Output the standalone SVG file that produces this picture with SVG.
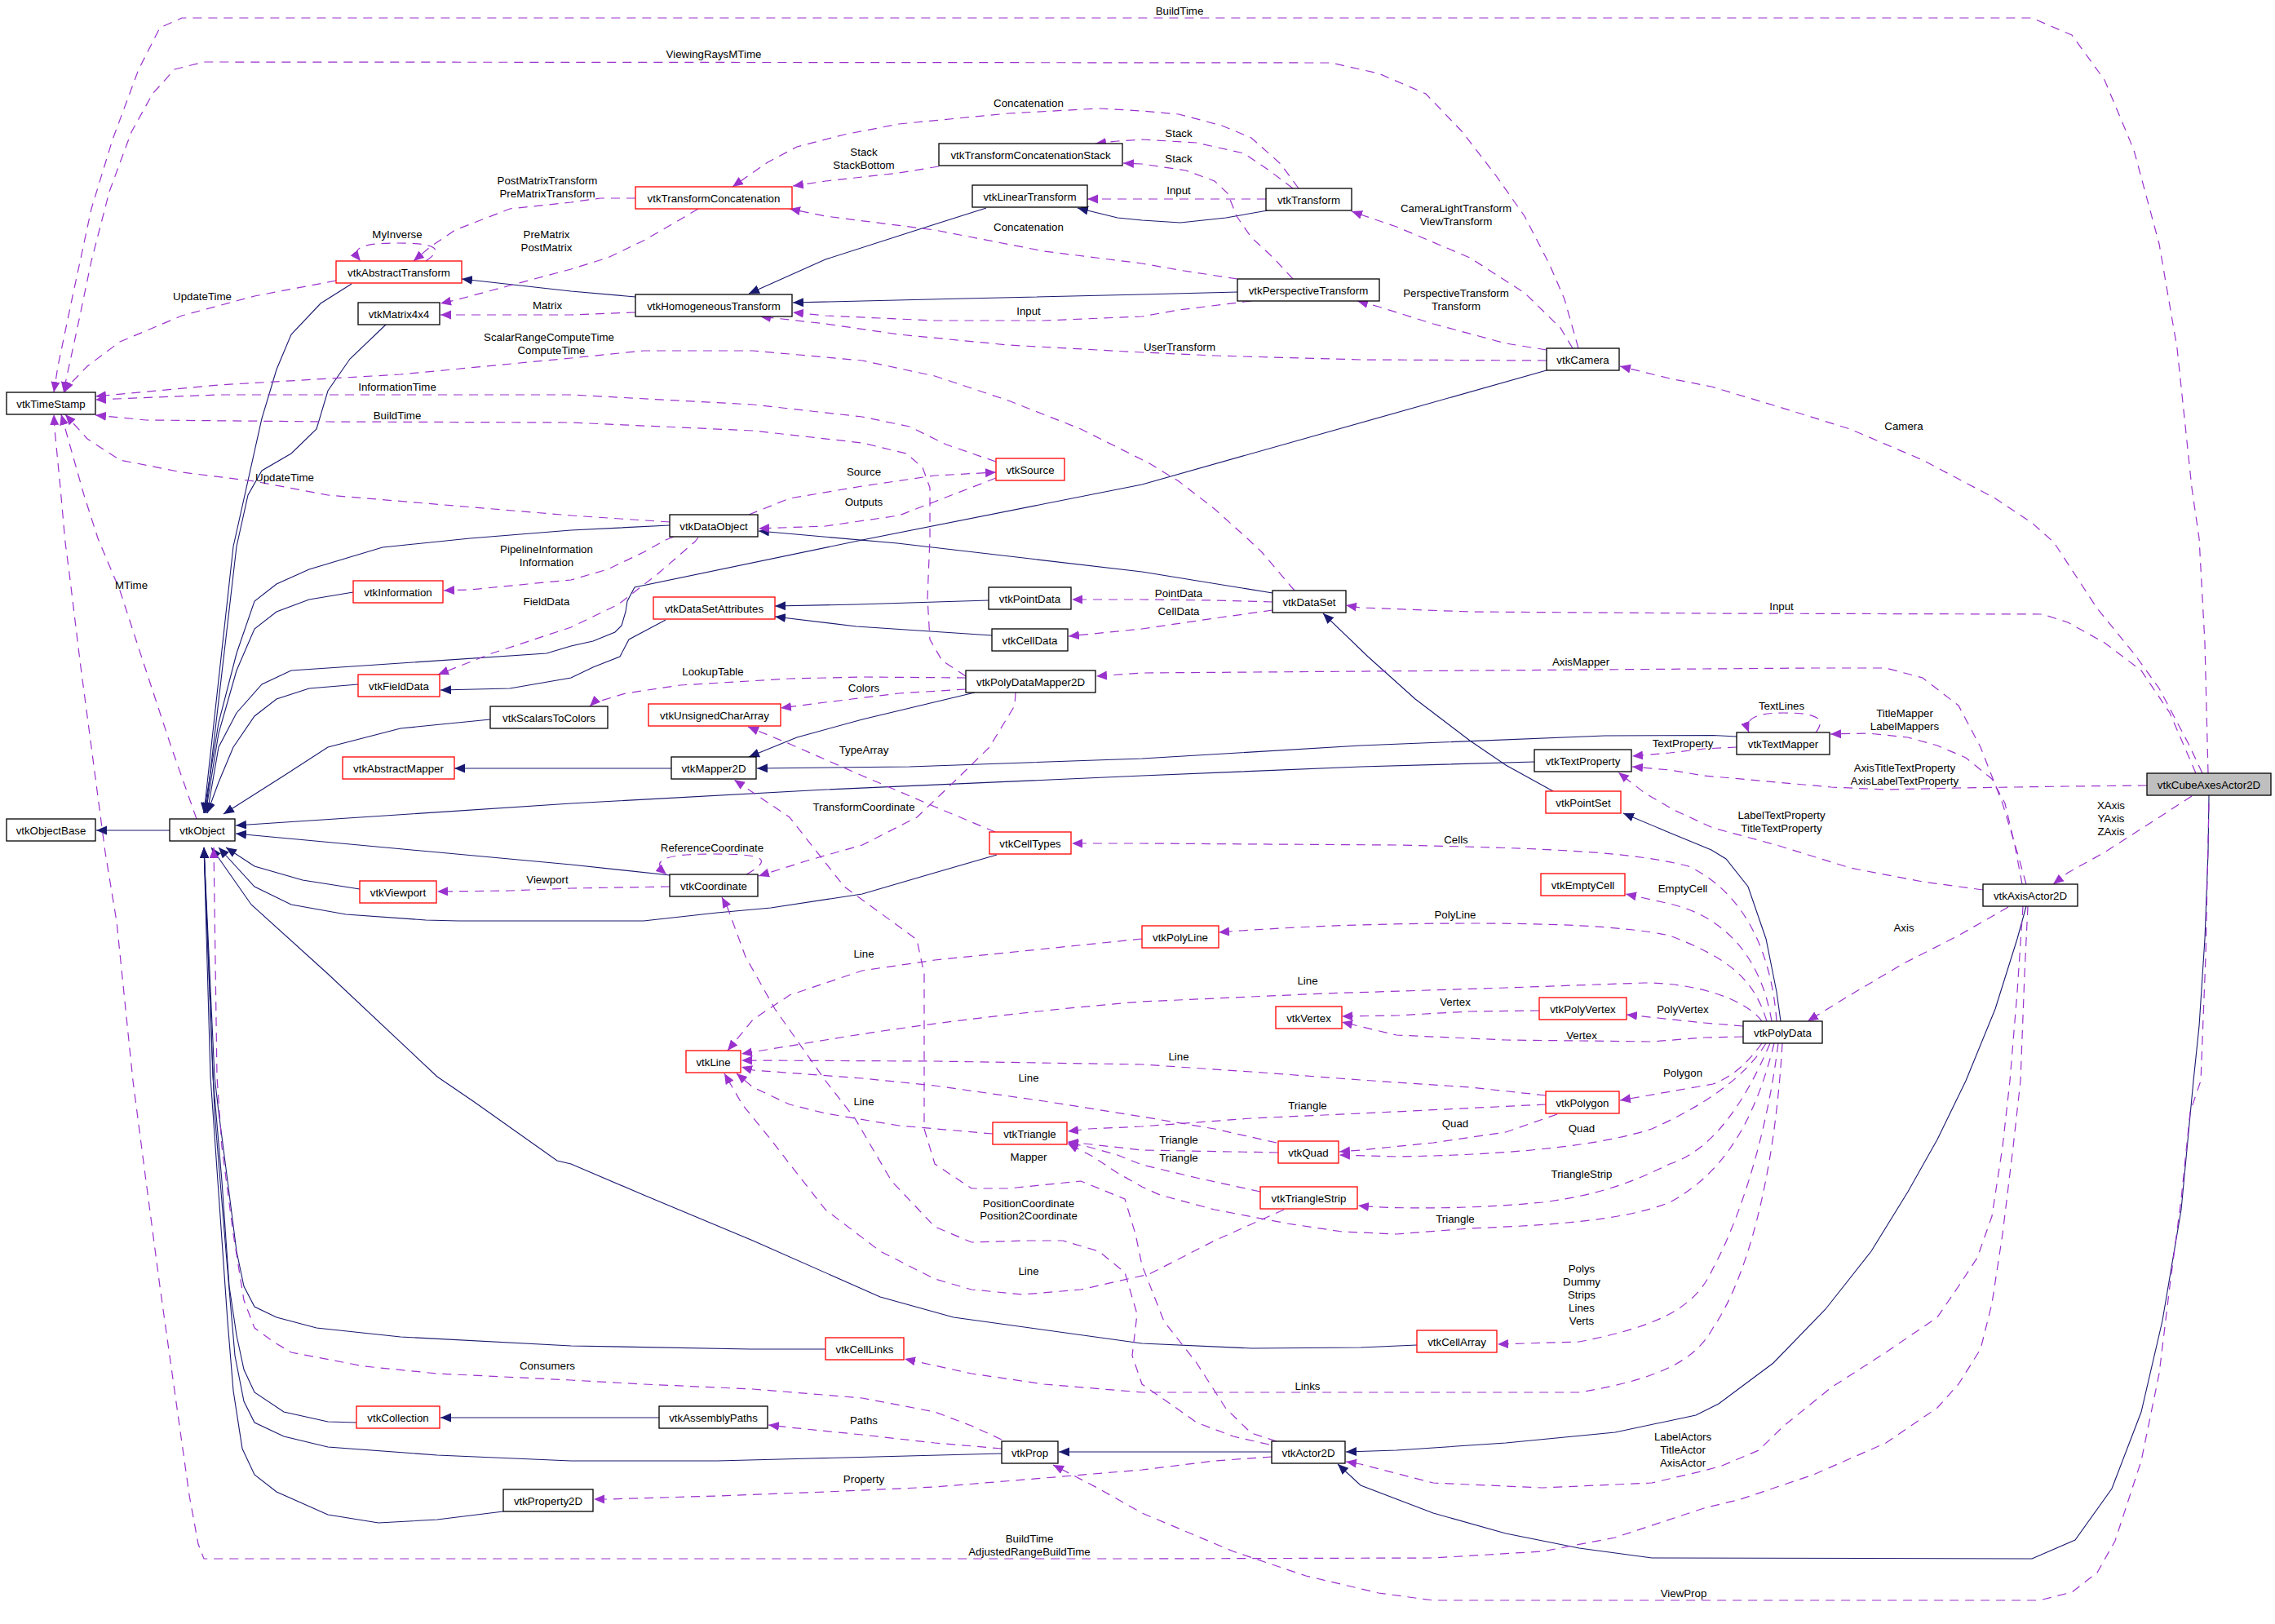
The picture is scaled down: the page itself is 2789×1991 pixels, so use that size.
<svg xmlns="http://www.w3.org/2000/svg" width="2789" height="1991" viewBox="0 0 2789 1991">
<defs>
<style>
text{font-family:"Liberation Sans",Arial,sans-serif;font-size:13.3px;fill:#000;text-anchor:middle}
.n rect{fill:#fff;stroke:#000;stroke-width:1.3}
.r rect{fill:#fff;stroke:#f00;stroke-width:1.3}
.g rect{fill:#bfbfbf;stroke:#000;stroke-width:1.3}
.i{fill:none;stroke:#191970;stroke-width:1.1;marker-end:url(#ai)}
.u{fill:none;stroke:#9a32cd;stroke-width:1.2;stroke-dasharray:11,8;marker-end:url(#au)}
</style>
<marker id="ai" markerUnits="userSpaceOnUse" viewBox="0 0 14 12" markerWidth="14" markerHeight="12" refX="13" refY="6" orient="auto"><path d="M0,0.5 L13,6 L0,11.5 z" fill="#191970"/></marker>
<marker id="au" markerUnits="userSpaceOnUse" viewBox="0 0 14 12" markerWidth="14" markerHeight="12" refX="13" refY="6" orient="auto"><path d="M0,0.5 L13,6 L0,11.5 z" fill="#9a32cd"/></marker>
</defs>
<rect width="2789" height="1991" fill="#fff"/>
<g id="connectors">
<path class="i" d="M208,1018 L118,1018"/>
<path class="i" d="M431,348 L393,372 L357,410 L339,453 L321,513 L286,670 L250,997"/>
<path class="i" d="M473,398 L429,440 L402,479 L388,526 L357,556 L321,577 L304,607 L290,670 L252,997"/>
<path class="i" d="M779,364 L700,357 L566,342"/>
<path class="i" d="M1209,255 L1124,282 L1012,318 L918,360"/>
<path class="i" d="M1554,258 L1503,267 L1447,273 L1400,270 L1370,267 L1321,255"/>
<path class="i" d="M1517,358 L1400,361 L1182,366 L972,371"/>
<path class="i" d="M821,644 L700,650 L576,660 L469,671 L379,698 L339,716 L312,737 L290,801 L268,886 L250,997"/>
<path class="i" d="M433,726 L379,735 L339,750 L312,771 L290,822 L268,899 L252,997"/>
<path class="i" d="M439,839 L379,844 L339,857 L312,878 L286,916 L268,959 L254,997"/>
<path class="i" d="M816,760 L771,784 L760,805 L727,818 L700,831 L625,844 L540,846"/>
<path class="i" d="M1212,736 L1050,741 L950,743"/>
<path class="i" d="M1216,779 L1050,768 L950,756"/>
<path class="i" d="M601,882 L491,893 L402,916 L348,951 L274,998"/>
<path class="i" d="M823,942 L557,942"/>
<path class="i" d="M1195,849 L1057,882 L977,904 L918,928"/>
<path class="i" d="M2129,903 L2100,901.5 L1967,902 L1668,914 L1400,930 L1115,940 L928,942"/>
<path class="i" d="M1881,934 L1668,940 L1400,951 L1012,968 L700,985 L289,1012"/>
<path class="i" d="M1560,727 L1400,701 L1100,666 L930,651"/>
<path class="i" d="M1904,970 L1846,938 L1802,908 L1735,857 L1677,805 L1622,752"/>
<path class="i" d="M2183,1252 L2178,1216 L2165,1151 L2143,1087 L2116,1053 L2098,1042 L2047,1021 L1990,997"/>
<path class="i" d="M1896,454 L1400,594 L1057,662 L778,720 L769,737 L767,750 L762,767 L754,775 L727,786 L700,792 L670,801 L357,822 L321,839 L290,874 L268,916 L254,997"/>
<path class="i" d="M441,1090 L371,1079 L312,1062 L277,1039"/>
<path class="i" d="M821,1073 L700,1060 L289,1022"/>
<path class="i" d="M1222,1048 L1146,1070 L1057,1096 L945,1113 L879,1119 L789,1129 L562,1129 L522,1128 L424,1121 L357,1109 L312,1087 L268,1039"/>
<path class="i" d="M1012,1654 L919,1654 L700,1650 L491,1639 L388,1628 L339,1615 L312,1602 L299,1577 L290,1534 L279,1448 L268,1363 L263,1320 L250,1039"/>
<path class="i" d="M1737,1649 L1668,1652 L1534,1653 L1400,1647 L1169,1615 L1079,1590 L923,1521 L789,1465 L700,1427 L683,1423 L580,1350 L536,1320 L402,1194 L308,1109 L259,1039"/>
<path class="i" d="M437,1744 L402,1743 L348,1731 L312,1707 L299,1679 L290,1637 L281,1577 L272,1448 L261,1320 L250,1039"/>
<path class="i" d="M808,1738 L540,1738"/>
<path class="i" d="M1228,1782 L995,1788 L879,1791 L700,1791 L536,1784 L402,1774 L348,1761 L312,1744 L299,1718 L288,1662 L277,1534 L263,1363 L250,1039"/>
<path class="i" d="M1559,1780 L1298,1780"/>
<path class="i" d="M2484,1111 L2473,1151 L2446,1237 L2410,1325 L2375,1397 L2339,1461 L2294,1534 L2238,1605 L2174,1671 L2107,1721 L2079,1735 L1980,1756 L1846,1769 L1712,1778 L1650,1780"/>
<path class="i" d="M2708,975 L2707,1045 L2703,1151 L2696,1258 L2689,1325 L2674,1483 L2651,1619 L2625,1731 L2589,1825 L2544,1888 L2491,1911 L2025,1910 L1936,1898 L1846,1880 L1757,1855 L1668,1821 L1640,1795"/>
<path class="i" d="M617,1853 L536,1863 L464,1867 L402,1857 L339,1829 L312,1808 L297,1776 L286,1705 L279,1620 L270,1491 L258,1320 L250,1039"/>

<path class="u" d="M2707,948 L2703,788 L2696,660 L2687,598 L2669,427 L2647,299 L2616,184 L2580,98 L2540,43 L2491,22 L223,22 L196,34 L170,85 L138,171 L112,256 L89,363 L71,449 L66,481"/>
<path class="u" d="M1935,427 L1918,367 L1900,325 L1869,265 L1833,214 L1793,162 L1748,115 L1690,90 L1632,77 L250,76 L214,85 L187,115 L161,162 L134,235 L112,320 L94,406 L80,470 L78,481"/>
<path class="u" d="M412,344 L312,363 L223,387 L147,419 L107,449 L82,475 L79,481"/>
<path class="u" d="M1184,829 L1155,810 L1140,784 L1137,733 L1140,660 L1140,598 L1131,573 L1111,556 L1057,543 L923,528 L700,518 L402,517 L179,515 L117,509"/>
<path class="u" d="M1221,566 L1160,545 L1115,523 L1057,511 L923,496 L700,484 L268,484 L117,490"/>
<path class="u" d="M1587,724 L1547,677 L1529,660 L1489,624 L1445,590 L1409,568 L1325,526 L1236,491 L1146,461 L1057,442 L923,430 L789,430 L700,439 L491,459 L268,472 L117,486"/>
<path class="u" d="M821,640 L700,632 L402,607 L312,590 L223,579 L147,564 L107,538 L80,508"/>
<path class="u" d="M241,1004 L210,916 L179,822 L147,724 L120,660 L103,607 L75,508"/>
<path class="u" d="M2486,1111 L2482,1194 L2477,1325 L2468,1406 L2455,1513 L2442,1598 L2428,1654 L2401,1697 L2375,1726 L2312,1769 L2223,1808 L2134,1838 L2089,1849 L1980,1885 L1891,1902 L1757,1910 L1400,1911 L250,1911 L243,1893 L232,1833 L214,1705 L196,1577 L179,1448 L163,1325 L143,1130 L129,1045 L112,916 L98,810 L85,703 L80,665 L74,598 L67,526 L66,508"/>
<path class="u" d="M2708,985 L2704,1173 L2698,1325 L2685,1363 L2674,1470 L2660,1577 L2647,1684 L2625,1791 L2593,1889 L2571,1928 L2540,1952 L2500,1962 L1757,1962 L1690,1953 L1601,1932 L1512,1902 L1400,1855 L1347,1825 L1291,1796"/>
<path class="u" d="M2700,948 L2683,912 L2647,844 L2616,801 L2571,746 L2518,665 L2491,641 L2446,611 L2357,564 L2268,526 L2178,498 L2098,474 L2047,464 L1986,449"/>
<path class="u" d="M2692,948 L2660,874 L2625,822 L2580,788 L2535,763 L2504,753 L2100,752 L1802,750 L1668,745 L1650,742"/>
<path class="u" d="M2632,963 L2535,964 L2401,966 L2312,968 L2245,965 L2178,959 L2089,951 L2047,944 L2001,940"/>
<path class="u" d="M2687,976 L2647,1002 L2580,1045 L2535,1070 L2517,1084"/>
<path class="u" d="M2484,1084 L2473,1045 L2455,985 L2428,916 L2401,865 L2357,831 L2312,819 L2223,819 L2089,820 L1400,825 L1344,829"/>
<path class="u" d="M2479,1084 L2470,1036 L2458,985 L2442,955 L2410,929 L2375,914 L2339,904 L2290,899 L2244,900"/>
<path class="u" d="M2431,1091 L2357,1081 L2268,1064 L2178,1036 L2100,1015 L2052,993 L2016,972 L1984,947"/>
<path class="u" d="M2462,1112 L2401,1147 L2334,1181 L2268,1220 L2216,1252"/>
<path class="u" d="M2480,1111 L2473,1216 L2464,1325 L2455,1406 L2442,1491 L2424,1542 L2401,1577 L2375,1615 L2312,1658 L2245,1701 L2187,1748 L2156,1778 L2111,1797 L2089,1803 L2025,1818 L1891,1824 L1757,1818 L1668,1795 L1650,1792"/>
<path class="u" d="M2226,898 C2240,880 2225,874 2187,874 C2150,874 2138,882 2144,898"/>
<path class="u" d="M2129,916 L2089,918 L2047,923 L2001,927"/>
<path class="u" d="M1184,831 L1057,830 L968,832 L834,840 L767,850 L727,862 L723,866"/>
<path class="u" d="M1184,845 L1102,850 L1012,861 L957,868"/>
<path class="u" d="M1245,849 L1244,865 L1213,916 L1169,959 L1124,1002 L1057,1036 L990,1055 L930,1074"/>
<path class="u" d="M915,1072 C950,1052 935,1047 873,1047 C812,1047 797,1055 817,1072"/>
<path class="u" d="M821,1087 L700,1089 L625,1092 L536,1093"/>
<path class="u" d="M1220,1020 L1146,989 L1057,951 L968,912 L917,891"/>
<path class="u" d="M2178,1252 C2172,1170 2140,1095 2070,1062 C2000,1044 1900,1040 1712,1036 L1400,1034 L1314,1034"/>
<path class="u" d="M2172,1252 C2160,1180 2120,1125 2047,1108 L1993,1096"/>
<path class="u" d="M2166,1252 C2150,1200 2120,1175 2047,1147 C1990,1135 1900,1132 1802,1132 C1700,1132 1600,1135 1494,1143"/>
<path class="u" d="M2160,1252 C2140,1225 2080,1205 2016,1205 L1846,1211 L1623,1218 L1400,1228 C1250,1240 1100,1260 1012,1275 L909,1292"/>
<path class="u" d="M2137,1258 L2089,1254 L1994,1244"/>
<path class="u" d="M2137,1271 L2089,1272 L2025,1277 L1846,1275 L1712,1269 L1645,1253"/>
<path class="u" d="M1887,1239 L1802,1240 L1712,1245 L1645,1246"/>
<path class="u" d="M2160,1279 C2145,1300 2125,1320 2100,1329 L1986,1349"/>
<path class="u" d="M2165,1279 C2140,1320 2090,1355 2025,1384 C1960,1405 1850,1416 1712,1418 L1642,1416"/>
<path class="u" d="M2170,1279 C2140,1350 2100,1410 2047,1427 C2000,1450 1960,1465 1891,1474 C1800,1483 1700,1482 1665,1478"/>
<path class="u" d="M2175,1279 C2150,1380 2110,1440 2047,1474 C1990,1497 1900,1502 1802,1506 L1712,1513 L1645,1510 L1578,1500 L1489,1483 L1422,1465 L1400,1455 L1370,1438 L1340,1418 L1309,1402"/>
<path class="u" d="M2180,1279 C2165,1400 2130,1500 2100,1555 C2080,1600 2040,1625 1936,1645 L1836,1648"/>
<path class="u" d="M2185,1279 C2175,1450 2140,1570 2100,1628 C2080,1665 2040,1690 1936,1707 L1400,1707 L1280,1697 L1191,1684 L1109,1666"/>
<path class="u" d="M1895,1343 L1802,1333 L1668,1324 L1534,1314 L1400,1305 L1146,1301 L909,1300"/>
<path class="u" d="M1895,1354 L1668,1365 L1534,1371 L1400,1381 L1334,1384 L1309,1387"/>
<path class="u" d="M1909,1366 L1846,1388 L1757,1401 L1668,1410 L1642,1412"/>
<path class="u" d="M1565,1401 L1489,1384 L1400,1369 L1280,1350 L1146,1331 L1057,1322 L923,1312 L909,1308"/>
<path class="u" d="M1567,1413 L1400,1410 L1338,1403 L1309,1400"/>
<path class="u" d="M1545,1461 L1467,1444 L1400,1428 L1370,1416 L1334,1406 L1309,1401"/>
<path class="u" d="M1574,1483 L1489,1521 L1409,1562 L1325,1581 L1254,1587 L1191,1581 L1146,1568 L1079,1534 L1012,1483 L968,1427 L945,1397 L910,1354 L888,1316"/>
<path class="u" d="M1217,1390 L1102,1380 L1012,1365 L968,1354 L923,1333 L903,1316"/>
<path class="u" d="M1400,1151 L1146,1177 L1057,1190 L968,1220 L923,1250 L892,1288"/>
<path class="u" d="M1565,1767 L1534,1757 L1503,1727 L1467,1671 L1427,1620 L1400,1551 L1392,1513 L1379,1470 L1325,1448 L1236,1457 L1191,1457 L1146,1427 L1133,1384 L1133,1194 L1124,1152 L1035,1087 L968,1002 L900,956"/>
<path class="u" d="M1556,1771 L1512,1761 L1467,1744 L1436,1722 L1400,1697 L1388,1662 L1394,1611 L1379,1560 L1347,1534 L1303,1521 L1258,1521 L1191,1523 L1146,1504 L1093,1448 L1048,1371 L1012,1325 L950,1237 L914,1173 L892,1113 L885,1100"/>
<path class="u" d="M1559,1786 L1489,1791 L1400,1802 L1280,1812 L1146,1823 L1012,1829 L879,1834 L745,1838 L728,1838"/>
<path class="u" d="M1228,1776 L1146,1769 L1057,1759 L968,1750 L942,1747"/>
<path class="u" d="M1228,1765 L1191,1748 L1146,1731 L1057,1714 L923,1703 L789,1697 L700,1692 L536,1684 L446,1675 L357,1658 L335,1645 L312,1628 L299,1594 L286,1513 L272,1406 L266,1320 L262,1039"/>
<path class="u" d="M918,631 L968,611 L1057,596 L1146,583 L1221,579"/>
<path class="u" d="M1221,586 L1146,615 L1102,632 L1012,645 L930,648"/>
<path class="u" d="M826,658 L816,662 L789,677 L745,698 L700,711 L647,716 L576,723 L544,724"/>
<path class="u" d="M856,659 L852,664 L807,703 L758,741 L700,769 L603,801 L537,827"/>
<path class="u" d="M1560,738 L1489,736 L1400,735 L1314,735"/>
<path class="u" d="M1560,748 L1489,758 L1400,771 L1310,780"/>
<path class="u" d="M779,243 L736,243 L700,248 L625,256 L558,282 L527,303 L507,320"/>
<path class="u" d="M522,320 C545,305 535,298 487,298 C440,298 430,305 442,320"/>
<path class="u" d="M856,256 L834,269 L789,295 L745,316 L700,330 L625,350 L558,368 L540,372"/>
<path class="u" d="M779,383 L700,386 L540,386"/>
<path class="u" d="M1151,204 L1102,212 L1012,222 L972,228"/>
<path class="u" d="M1592,231 L1570,201 L1534,169 L1498,154 L1445,140 L1400,136 L1347,133 L1236,139 L1102,152 L1035,165 L977,180 L941,199 L898,229"/>
<path class="u" d="M1585,231 L1556,209 L1525,188 L1467,175 L1400,171 L1370,173 L1343,176"/>
<path class="u" d="M1585,342 L1561,316 L1534,291 L1516,265 L1505,237 L1489,222 L1454,209 L1400,201 L1377,200"/>
<path class="u" d="M1552,244 L1333,244"/>
<path class="u" d="M1517,342 L1445,331 L1400,323 L1280,308 L1146,282 L1012,265 L968,256"/>
<path class="u" d="M1534,369 L1445,380 L1400,388 L1280,393 L1146,393 L1012,387 L972,383"/>
<path class="u" d="M1896,442 L1668,441 L1489,436 L1400,432 L1236,423 L1102,410 L1012,397 L932,388"/>
<path class="u" d="M1928,427 L1913,402 L1869,359 L1802,316 L1712,278 L1668,263 L1657,259"/>
<path class="u" d="M1896,429 L1846,421 L1757,397 L1690,376 L1664,369"/>

<text x="1446" y="18">BuildTime</text>
<text x="875" y="71">ViewingRaysMTime</text>
<text x="1261" y="131">Concatenation</text>
<text x="1445" y="168">Stack</text>
<text x="1059" y="191">Stack</text>
<text x="1059" y="207">StackBottom</text>
<text x="1445" y="199">Stack</text>
<text x="671" y="226">PostMatrixTransform</text>
<text x="671" y="242">PreMatrixTransform</text>
<text x="1445" y="238">Input</text>
<text x="1785" y="260">CameraLightTransform</text>
<text x="1785" y="276">ViewTransform</text>
<text x="1261" y="283">Concatenation</text>
<text x="487" y="292">MyInverse</text>
<text x="670" y="292">PreMatrix</text>
<text x="670" y="308">PostMatrix</text>
<text x="1785" y="364">PerspectiveTransform</text>
<text x="1785" y="380">Transform</text>
<text x="248" y="368">UpdateTime</text>
<text x="671" y="379">Matrix</text>
<text x="1261" y="386">Input</text>
<text x="673" y="418">ScalarRangeComputeTime</text>
<text x="676" y="434">ComputeTime</text>
<text x="1446" y="430">UserTransform</text>
<text x="487" y="479">InformationTime</text>
<text x="487" y="514">BuildTime</text>
<text x="2334" y="527">Camera</text>
<text x="1059" y="583">Source</text>
<text x="349" y="590">UpdateTime</text>
<text x="1059" y="620">Outputs</text>
<text x="670" y="678">PipelineInformation</text>
<text x="670" y="694">Information</text>
<text x="161" y="722">MTime</text>
<text x="1445" y="732">PointData</text>
<text x="670" y="742">FieldData</text>
<text x="2184" y="748">Input</text>
<text x="1445" y="754">CellData</text>
<text x="1938" y="816">AxisMapper</text>
<text x="874" y="828">LookupTable</text>
<text x="1059" y="848">Colors</text>
<text x="2184" y="870">TextLines</text>
<text x="2335" y="879">TitleMapper</text>
<text x="2335" y="895">LabelMappers</text>
<text x="2063" y="916">TextProperty</text>
<text x="1059" y="924">TypeArray</text>
<text x="2335" y="946">AxisTitleTextProperty</text>
<text x="2335" y="962">AxisLabelTextProperty</text>
<text x="2588" y="992">XAxis</text>
<text x="2588" y="1008">YAxis</text>
<text x="2588" y="1024">ZAxis</text>
<text x="1059" y="994">TransformCoordinate</text>
<text x="2184" y="1004">LabelTextProperty</text>
<text x="2184" y="1020">TitleTextProperty</text>
<text x="1785" y="1034">Cells</text>
<text x="873" y="1044">ReferenceCoordinate</text>
<text x="671" y="1083">Viewport</text>
<text x="2063" y="1094">EmptyCell</text>
<text x="1784" y="1126">PolyLine</text>
<text x="2334" y="1142">Axis</text>
<text x="1059" y="1174">Line</text>
<text x="1603" y="1207">Line</text>
<text x="1784" y="1233">Vertex</text>
<text x="2063" y="1242">PolyVertex</text>
<text x="1939" y="1274">Vertex</text>
<text x="1445" y="1300">Line</text>
<text x="2063" y="1320">Polygon</text>
<text x="1261" y="1326">Line</text>
<text x="1059" y="1355">Line</text>
<text x="1603" y="1360">Triangle</text>
<text x="1784" y="1382">Quad</text>
<text x="1939" y="1388">Quad</text>
<text x="1445" y="1402">Triangle</text>
<text x="1445" y="1424">Triangle</text>
<text x="1261" y="1423">Mapper</text>
<text x="1939" y="1444">TriangleStrip</text>
<text x="1261" y="1480">PositionCoordinate</text>
<text x="1261" y="1495">Position2Coordinate</text>
<text x="1784" y="1499">Triangle</text>
<text x="1939" y="1560">Polys</text>
<text x="1939" y="1576">Dummy</text>
<text x="1939" y="1592">Strips</text>
<text x="1939" y="1608">Lines</text>
<text x="1939" y="1624">Verts</text>
<text x="1261" y="1563">Line</text>
<text x="671" y="1679">Consumers</text>
<text x="1603" y="1704">Links</text>
<text x="1059" y="1746">Paths</text>
<text x="2063" y="1766">LabelActors</text>
<text x="2063" y="1782">TitleActor</text>
<text x="2063" y="1798">AxisActor</text>
<text x="1059" y="1818">Property</text>
<text x="1262" y="1891">BuildTime</text>
<text x="1262" y="1907">AdjustedRangeBuildTime</text>
<text x="2064" y="1958">ViewProp</text>
</g>
<g id="vtkTimeStamp" class="n"><rect x="8" y="481" width="109" height="27"/><text x="62.5" y="499.5">vtkTimeStamp</text></g>
<g id="vtkAbstractTransform" class="r"><rect x="412" y="320" width="154" height="27"/><text x="489" y="338.5">vtkAbstractTransform</text></g>
<g id="vtkMatrix4x4" class="n"><rect x="439" y="371" width="100" height="27"/><text x="489" y="389.5">vtkMatrix4x4</text></g>
<g id="vtkTransformConcatenation" class="r"><rect x="779" y="229" width="192" height="27"/><text x="875" y="247.5">vtkTransformConcatenation</text></g>
<g id="vtkTransformConcatenationStack" class="n"><rect x="1151" y="176" width="225" height="27"/><text x="1263.5" y="194.5">vtkTransformConcatenationStack</text></g>
<g id="vtkLinearTransform" class="n"><rect x="1192" y="227" width="141" height="27"/><text x="1262.5" y="245.5">vtkLinearTransform</text></g>
<g id="vtkHomogeneousTransform" class="n"><rect x="779" y="361" width="192" height="27"/><text x="875" y="379.5">vtkHomogeneousTransform</text></g>
<g id="vtkSource" class="r"><rect x="1221" y="562" width="84" height="27"/><text x="1263" y="580.5">vtkSource</text></g>
<g id="vtkDataObject" class="n"><rect x="821" y="631" width="108" height="27"/><text x="875" y="649.5">vtkDataObject</text></g>
<g id="vtkTransform" class="n"><rect x="1552" y="231" width="105" height="27"/><text x="1604.5" y="249.5">vtkTransform</text></g>
<g id="vtkPerspectiveTransform" class="n"><rect x="1517" y="342" width="174" height="27"/><text x="1604" y="360.5">vtkPerspectiveTransform</text></g>
<g id="vtkCamera" class="n"><rect x="1896" y="427" width="89" height="27"/><text x="1940.5" y="445.5">vtkCamera</text></g>
<g id="vtkInformation" class="r"><rect x="433" y="712" width="110" height="27"/><text x="488" y="730.5">vtkInformation</text></g>
<g id="vtkFieldData" class="r"><rect x="439" y="827" width="100" height="27"/><text x="489" y="845.5">vtkFieldData</text></g>
<g id="vtkScalarsToColors" class="n"><rect x="601" y="866" width="144" height="27"/><text x="673" y="884.5">vtkScalarsToColors</text></g>
<g id="vtkAbstractMapper" class="r"><rect x="420" y="928" width="137" height="27"/><text x="488.5" y="946.5">vtkAbstractMapper</text></g>
<g id="vtkObjectBase" class="n"><rect x="8" y="1004" width="109" height="27"/><text x="62.5" y="1022.5">vtkObjectBase</text></g>
<g id="vtkObject" class="n"><rect x="208" y="1004" width="80" height="27"/><text x="248" y="1022.5">vtkObject</text></g>
<g id="vtkViewport" class="r"><rect x="441" y="1080" width="94" height="27"/><text x="488" y="1098.5">vtkViewport</text></g>
<g id="vtkDataSetAttributes" class="r"><rect x="801" y="732" width="149" height="27"/><text x="875.5" y="750.5">vtkDataSetAttributes</text></g>
<g id="vtkPointData" class="n"><rect x="1212" y="720" width="101" height="27"/><text x="1262.5" y="738.5">vtkPointData</text></g>
<g id="vtkCellData" class="n"><rect x="1216" y="771" width="93" height="27"/><text x="1262.5" y="789.5">vtkCellData</text></g>
<g id="vtkPolyDataMapper2D" class="n"><rect x="1184" y="822" width="159" height="27"/><text x="1263.5" y="840.5">vtkPolyDataMapper2D</text></g>
<g id="vtkUnsignedCharArray" class="r"><rect x="795" y="863" width="162" height="27"/><text x="876" y="881.5">vtkUnsignedCharArray</text></g>
<g id="vtkMapper2D" class="n"><rect x="823" y="928" width="104" height="27"/><text x="875" y="946.5">vtkMapper2D</text></g>
<g id="vtkCellTypes" class="r"><rect x="1213" y="1020" width="100" height="27"/><text x="1263" y="1038.5">vtkCellTypes</text></g>
<g id="vtkCoordinate" class="n"><rect x="821" y="1072" width="108" height="27"/><text x="875" y="1090.5">vtkCoordinate</text></g>
<g id="vtkLine" class="r"><rect x="841" y="1288" width="67" height="27"/><text x="874.5" y="1306.5">vtkLine</text></g>
<g id="vtkDataSet" class="n"><rect x="1560" y="724" width="90" height="27"/><text x="1605" y="742.5">vtkDataSet</text></g>
<g id="vtkTextProperty" class="n"><rect x="1881" y="919" width="119" height="27"/><text x="1940.5" y="937.5">vtkTextProperty</text></g>
<g id="vtkPointSet" class="r"><rect x="1895" y="970" width="92" height="27"/><text x="1941" y="988.5">vtkPointSet</text></g>
<g id="vtkEmptyCell" class="r"><rect x="1889" y="1071" width="103" height="27"/><text x="1940.5" y="1089.5">vtkEmptyCell</text></g>
<g id="vtkPolyLine" class="r"><rect x="1400" y="1135" width="94" height="27"/><text x="1447" y="1153.5">vtkPolyLine</text></g>
<g id="vtkVertex" class="r"><rect x="1564" y="1234" width="81" height="27"/><text x="1604.5" y="1252.5">vtkVertex</text></g>
<g id="vtkPolyVertex" class="r"><rect x="1887" y="1223" width="107" height="27"/><text x="1940.5" y="1241.5">vtkPolyVertex</text></g>
<g id="vtkTextMapper" class="n"><rect x="2129" y="898" width="114" height="27"/><text x="2186" y="916.5">vtkTextMapper</text></g>
<g id="vtkCubeAxesActor2D" class="g"><rect x="2632" y="948" width="152" height="27"/><text x="2708" y="966.5">vtkCubeAxesActor2D</text></g>
<g id="vtkAxisActor2D" class="n"><rect x="2431" y="1084" width="116" height="27"/><text x="2489" y="1102.5">vtkAxisActor2D</text></g>
<g id="vtkPolyData" class="n"><rect x="2137" y="1252" width="97" height="27"/><text x="2185.5" y="1270.5">vtkPolyData</text></g>
<g id="vtkTriangle" class="r"><rect x="1217" y="1376" width="91" height="27"/><text x="1262.5" y="1394.5">vtkTriangle</text></g>
<g id="vtkCellLinks" class="r"><rect x="1012" y="1640" width="96" height="27"/><text x="1060" y="1658.5">vtkCellLinks</text></g>
<g id="vtkAssemblyPaths" class="n"><rect x="808" y="1724" width="133" height="27"/><text x="874.5" y="1742.5">vtkAssemblyPaths</text></g>
<g id="vtkProp" class="n"><rect x="1228" y="1767" width="69" height="27"/><text x="1262.5" y="1785.5">vtkProp</text></g>
<g id="vtkProperty2D" class="n"><rect x="617" y="1826" width="110" height="27"/><text x="672" y="1844.5">vtkProperty2D</text></g>
<g id="vtkCollection" class="r"><rect x="437" y="1724" width="102" height="27"/><text x="488" y="1742.5">vtkCollection</text></g>
<g id="vtkPolygon" class="r"><rect x="1895" y="1338" width="90" height="27"/><text x="1940" y="1356.5">vtkPolygon</text></g>
<g id="vtkQuad" class="r"><rect x="1567" y="1399" width="74" height="27"/><text x="1604" y="1417.5">vtkQuad</text></g>
<g id="vtkTriangleStrip" class="r"><rect x="1545" y="1455" width="119" height="27"/><text x="1604.5" y="1473.5">vtkTriangleStrip</text></g>
<g id="vtkCellArray" class="r"><rect x="1737" y="1631" width="98" height="27"/><text x="1786" y="1649.5">vtkCellArray</text></g>
<g id="vtkActor2D" class="n"><rect x="1559" y="1767" width="90" height="27"/><text x="1604" y="1785.5">vtkActor2D</text></g>
</svg>
